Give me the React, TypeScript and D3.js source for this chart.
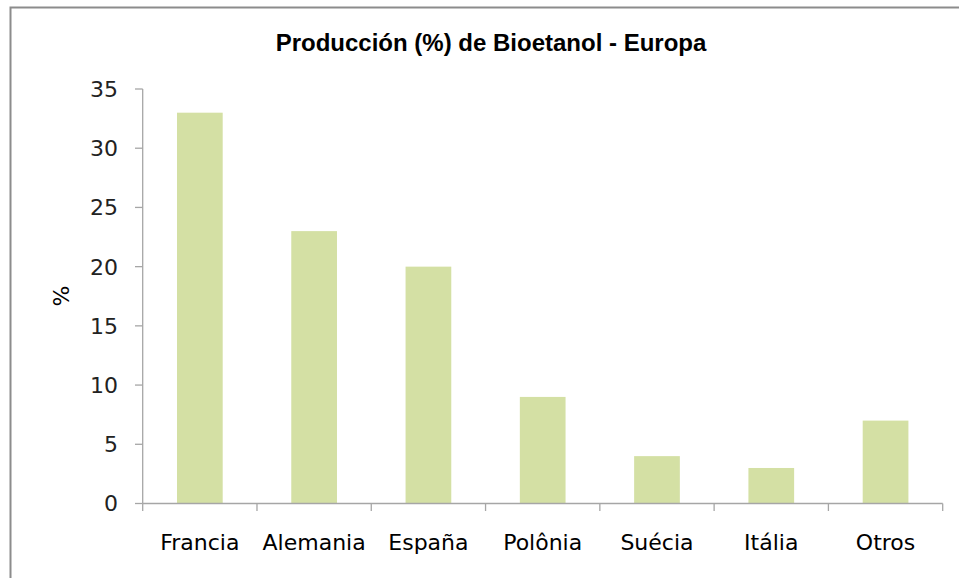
import React from "react";
import * as d3 from "d3";

const categories = ["Francia", "Alemania", "España", "Polônia", "Suécia", "Itália", "Otros"];
const values = [33, 23, 20, 9, 4, 3, 7];
const yTicks = [0, 5, 10, 15, 20, 25, 30, 35];
const title = "Producción (%) de Bioetanol - Europa";
const yLabel = "%";

export default function App() {
  const W = 959, H = 578;
  const left = 142.7, right = 942.7, top = 89, bottom = 503.5;
  const x = d3.scaleBand<string>().domain(categories).range([left, right]).paddingInner(0.6).paddingOuter(0.3);
  const xb = d3.scaleBand<string>().domain(categories).range([left, right]);
  const y = d3.scaleLinear().domain([0, 35]).range([bottom, top]);
  const axisColor = "#a6a6a6";
  const font = "'DejaVu Sans', Verdana, sans-serif";
  return (
    <svg width={W} height={H} style={{ position: "absolute", left: 0, top: 0, background: "#fff" }}>
      <rect x={10.5} y={7.5} width={1000} height={700} fill="#fff" stroke="#8c8c8c" strokeWidth={2} />
      <text x={491} y={51} textAnchor="middle" fontFamily="'Liberation Sans', Arial, sans-serif" fontWeight="bold" fontSize={24} fill="#000">
        {title}
      </text>
      {categories.map((c, i) => (
        <rect key={c} x={x(c)} y={y(values[i])} width={x.bandwidth()} height={bottom - y(values[i])} fill="#d4e0a4" />
      ))}
      <line x1={left} x2={left} y1={top} y2={bottom} stroke={axisColor} strokeWidth={1.3} />
      <line x1={left} x2={right} y1={bottom} y2={bottom} stroke={axisColor} strokeWidth={1.3} />
      {yTicks.map((t) => (
        <g key={t}>
          <line x1={135} x2={left} y1={y(t)} y2={y(t)} stroke={axisColor} strokeWidth={1.3} />
          <text x={118} y={y(t)} dy="0.36em" textAnchor="end" fontFamily={font} fontSize={22} fill="#222">
            {t}
          </text>
        </g>
      ))}
      {categories.concat(["__end"]).map((c, i) => {
        const xx = i < categories.length ? (xb(c) as number) : right;
        return <line key={"t" + i} x1={xx} x2={xx} y1={bottom} y2={511} stroke={axisColor} strokeWidth={1.3} />;
      })}
      {categories.map((c) => (
        <text key={"l" + c} x={(xb(c) as number) + xb.bandwidth() / 2} y={550} textAnchor="middle" fontFamily={font} fontSize={22} fill="#000">
          {c}
        </text>
      ))}
      <text transform={`translate(69,296) rotate(-90)`} textAnchor="middle" fontFamily={font} fontSize={22} fill="#000">
        {yLabel}
      </text>
    </svg>
  );
}
